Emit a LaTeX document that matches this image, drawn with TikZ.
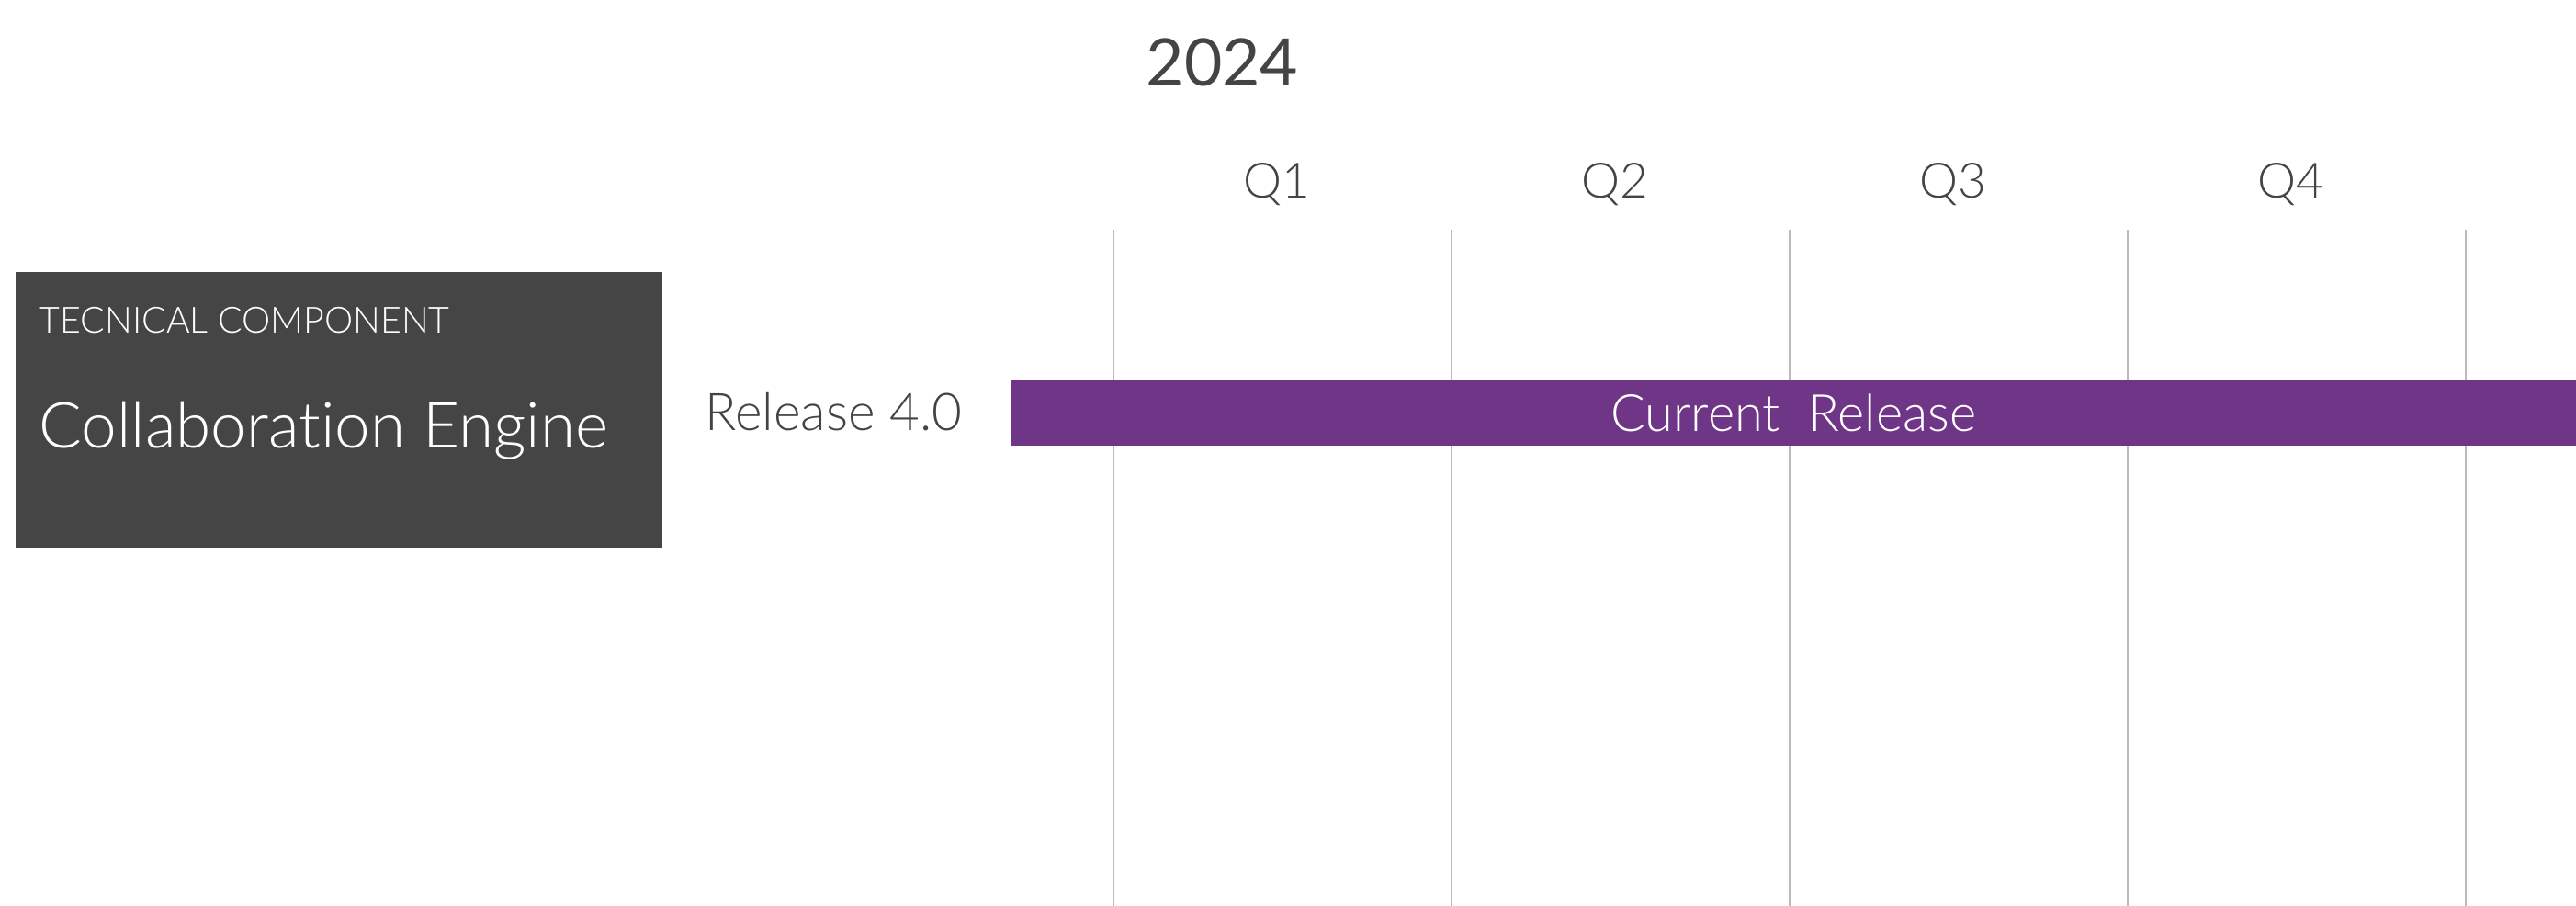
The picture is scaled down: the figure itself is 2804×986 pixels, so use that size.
\documentclass[tikz,border=0pt]{standalone}
\usepackage{fontspec}
\setmainfont{Lato}[Ligatures=NoCommon]
\newfontfamily\lightfont{Lato Light}[Ligatures=NoCommon]
\usepackage{xcolor}
\usetikzlibrary{positioning,calc}

\definecolor{textgray}{HTML}{444444}
\definecolor{boxgray}{HTML}{454545}
\definecolor{gridgray}{HTML}{BBBBBB}
\definecolor{release}{HTML}{6F3587}

\begin{document}
\begin{tikzpicture}[
    x=0.01cm, y=-0.01cm,
    component/.style={rectangle, fill=boxgray, minimum width=7.04cm, minimum height=3.00cm, inner sep=0pt, anchor=north west},
    boxtext/.style={anchor=base west, inner sep=0pt, text=white},
    quarter/.style={anchor=base, text=textgray, font=\lightfont\fontsize{15.1}{18}\selectfont},
    yearlabel/.style={anchor=base west, inner sep=0pt, text=textgray, font=\fontsize{20.3}{24}\selectfont},
    rowlabel/.style={anchor=base west, inner sep=0pt, text=textgray, font=\lightfont\fontsize{16.1}{19}\selectfont},
    bar/.style={rectangle, fill=release, text=white, inner sep=0pt, minimum width=17.04cm, minimum height=0.71cm, font=\lightfont\fontsize{15.9}{19}\selectfont},
    grid/.style={draw=gridgray, line width=0.5pt}
]
\useasboundingbox (0,0) rectangle (2804,986);

% Year and quarters
\node[yearlabel] (year) at (1247,94) {2024};
\foreach \q [count=\i from 0] in {Q1,Q2,Q3,Q4}
    \node[quarter] (q\i) at ({1390+368*\i},216) {\q};

% Quarter grid
\foreach \i in {0,...,4} {
    \coordinate (top\i) at ({1212+368*\i},250);
    \coordinate (bot\i) at ({1212+368*\i},986);
    \draw[grid] (top\i) -- (bot\i);
}

% Component
\node[component] (comp) at (16,295) {};
\node[boxtext, font=\lightfont\fontsize{11.2}{14}\selectfont] (kind) at (42,363) {TECNICAL COMPONENT};
\node[boxtext, font=\lightfont\fontsize{19.7}{24}\selectfont] (name) at (42,488) {Collaboration Engine};

% Release row
\node[rowlabel] (rel) at (767,469) {Release 4.0};
\node[bar] (current) at (1952,449.5) {Current~~Release};

\end{tikzpicture}
\end{document}
